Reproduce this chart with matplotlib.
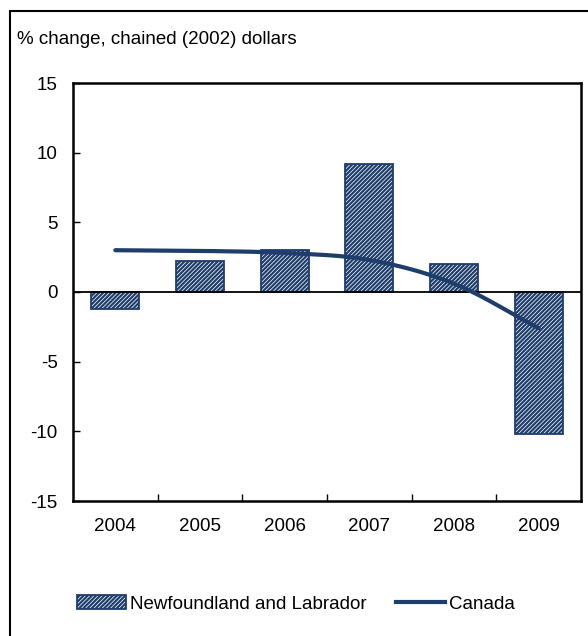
import numpy as np
import matplotlib
matplotlib.use("Agg")
from matplotlib import pyplot as plt
from matplotlib.patches import Rectangle, Patch
from matplotlib.lines import Line2D

plt.rcParams['font.family'] = ['Liberation Sans', 'DejaVu Sans']
plt.rcParams['hatch.linewidth'] = 1.6
plt.rcParams['axes.unicode_minus'] = False

years = ['2004', '2005', '2006', '2007', '2008', '2009']
nl_growth = [-1.2, 2.25, 3.0, 9.2, 2.0, -10.2]
canada_growth = [3.0, 2.95, 2.8, 2.3, 0.6, -2.6]

navy = '#1f3d6b'
hatch = '////////'
fs = 13.5


def smooth_curve(xs, ys, steps=30):
    # Catmull-Rom curve through the points, like a "smoothed line" chart
    pts = np.column_stack([xs, ys]).astype(float)
    ext = np.vstack([2 * pts[0] - pts[1], pts, 2 * pts[-1] - pts[-2]])
    out = []
    for i in range(1, len(ext) - 2):
        p0, p1, p2, p3 = ext[i - 1], ext[i], ext[i + 1], ext[i + 2]
        t = np.linspace(0, 1, steps)[:, None]
        seg = 0.5 * ((2 * p1) + (-p0 + p2) * t + (2 * p0 - 5 * p1 + 4 * p2 - p3) * t ** 2
                     + (-p0 + 3 * p1 - 3 * p2 + p3) * t ** 3)
        out.append(seg)
    out = np.vstack(out)
    return out[:, 0], out[:, 1]


fig = plt.figure(figsize=(5.88, 6.36), dpi=100)
ax = fig.add_axes([73 / 588, 1 - 501 / 636, 508 / 588, 418 / 636])

x = np.arange(len(years))
ax.bar(x, nl_growth, width=0.57, color='white', edgecolor=navy, hatch=hatch,
       linewidth=1.3, zorder=2)
ax.axhline(0, color='black', linewidth=1.3, zorder=3)
sx, sy = smooth_curve(x, canada_growth)
ax.plot(sx, sy, color=navy, linewidth=3, solid_capstyle='round', zorder=4)

ax.set_xlim(-0.5, len(years) - 0.5)
ax.set_ylim(-15, 15)
ax.set_yticks(range(-15, 16, 5))
ax.set_xticks(x)
ax.set_xticklabels(years)
ax.set_xticks(np.arange(0.5, len(years) - 1, 1), minor=True)
ax.tick_params(axis='x', which='major', length=0, pad=12, labelsize=fs)
ax.tick_params(axis='x', which='minor', direction='in', length=5, width=1)
ax.tick_params(axis='y', direction='in', length=5, width=1, pad=11, labelsize=fs)
for s in ax.spines.values():
    s.set_linewidth(1.8)

fig.text(17 / 588, 1 - 40 / 636, '% change, chained (2002) dollars', fontsize=fs,
         va='center', ha='left')

# outer frame (left and top edges visible)
fig.patches.append(Rectangle((10 / 588, -0.1), 1.2, 1.1 - 11 / 636,
                             transform=fig.transFigure, fill=False,
                             edgecolor='black', linewidth=1.5))

handles = [Patch(facecolor='white', edgecolor=navy, hatch=hatch, linewidth=1.3),
           Line2D([0], [0], color=navy, linewidth=3)]
fig.legend(handles, ['Newfoundland and Labrador', 'Canada'], loc='center',
           bbox_to_anchor=(296 / 588, 1 - 604 / 636), ncol=2, frameon=False,
           fontsize=fs, handlelength=2.6, handletextpad=0.2, columnspacing=1.6,
           handleheight=0.7)

fig.savefig('out.png', dpi=100)
